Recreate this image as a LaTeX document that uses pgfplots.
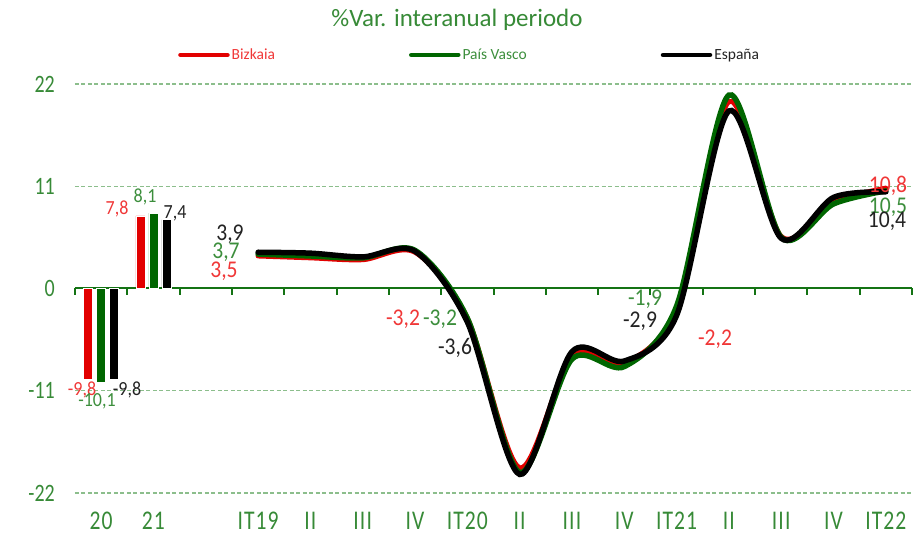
\documentclass[border=0pt]{standalone}
\usepackage{pgfplots}
\pgfplotsset{compat=1.18}
\usepackage{fontspec}
\setmainfont{Carlito}
\newfontfamily\ytickfont[FakeStretch=0.8]{Carlito}
\newfontfamily\xtickfont[FakeStretch=0.8,LetterSpace=4]{Carlito}
\newfontfamily\labfont[FakeStretch=0.9]{Carlito}
\definecolor{cred}{RGB}{226,0,0}
\definecolor{cgreen}{RGB}{0,102,0}
\definecolor{tgreen}{RGB}{55,138,55}
\definecolor{lred}{RGB}{240,55,55}
\definecolor{lgreen}{RGB}{60,142,60}
\definecolor{lblack}{RGB}{35,35,35}
\definecolor{gridgreen}{RGB}{140,190,140}
\definecolor{axgreen}{RGB}{20,115,20}
\begin{document}
\begin{tikzpicture}
\useasboundingbox (-75pt,-45pt) rectangle (839pt,493pt);
\node[text=tgreen, font=\fontsize{25}{30}\selectfont] at (382pt,473pt) {\%Var. interanual periodo};
\begin{axis}[at={(0pt,0pt)}, anchor=south west, scale only axis,
  width=837pt, height=409pt,
  xmin=-0.5, xmax=15.5, ymin=-22, ymax=22, clip=false,
  axis line style={draw=none}, major tick length=0pt,
  ytick={-22,-11,0,11,22}, yticklabels={-22,-11,0,11,22},
  xtick={0,...,15},
  xticklabels={20,21,,IT19,II,III,IV,IT20,II,III,IV,IT21,II,III,IV,IT22},
  ymajorgrids,
  grid style={gridgreen, line width=1.2pt, dash pattern=on 4pt off 2.5pt},
  tick label style={text=tgreen},
  yticklabel style={anchor=east, inner sep=0pt, xshift=-20pt, font=\ytickfont\fontsize{25}{28}\selectfont},
  xticklabel style={anchor=north, inner sep=0pt, yshift=-19pt, font=\xtickfont\fontsize{27}{30}\selectfont},
  legend columns=-1,
  legend style={draw=none, fill=none, at={(0.1231,1.0709)}, anchor=west, inner sep=0pt,
    font=\fontsize{15.5}{18}\selectfont,
    /tikz/every even column/.append style={column sep=132pt}},
  legend image code/.code={\draw[#1, line width=4.5pt, line cap=round] (0pt,0pt) -- (47pt,0pt);},
]
% zero axis line and boundary ticks
\draw[axgreen, line width=2pt] (axis cs:-0.5,0) -- (axis cs:15.5,0);
\pgfplotsinvokeforeach{-0.5,0.5,...,15.5}{\draw[axgreen, line width=2pt] (axis cs:#1,0) -- ++(0pt,-7pt);}
% bars (annual)
\addplot[ybar, bar width=0.172, bar shift=-0.2485, fill=cred, draw=white, line width=0.6pt, forget plot] coordinates {(0,-9.8) (1,7.8)};
\addplot[ybar, bar width=0.172, bar shift=0, fill=cgreen, draw=white, line width=0.6pt, forget plot] coordinates {(0,-10.1) (1,8.1)};
\addplot[ybar, bar width=0.172, bar shift=0.2485, fill=black, draw=white, line width=0.6pt, forget plot] coordinates {(0,-9.8) (1,7.4)};
% quarterly lines
\addplot[cred, line width=5pt, smooth, line cap=round] table {
x y
3 3.5
4 3.3
5 3.1
6 3.9
7 -3.2
8 -19.3
9 -7.2
10 -8.0
11 -2.2
12 20.1
13 5.6
14 9.3
15 10.8
};
\addlegendentry{\textcolor{lred}{Bizkaia}}
\addplot[cgreen, line width=5.5pt, smooth, line cap=round] table {
x y
3 3.7
4 3.5
5 3.3
6 4.1
7 -3.2
8 -19.8
9 -7.6
10 -8.4
11 -1.9
12 20.8
13 5.5
14 9.1
15 10.5
};
\addlegendentry{\textcolor{lgreen}{País Vasco}\hspace{10pt}}
\addplot[black, line width=5.5pt, smooth, line cap=round] table {
x y
3 3.9
4 3.8
5 3.4
6 4.0
7 -3.6
8 -20.0
9 -6.8
10 -7.8
11 -2.9
12 19.1
13 5.4
14 9.8
15 10.4
};
\addlegendentry{\textcolor{lblack}{España}}
% data labels
\begin{scope}[font=\labfont\fontsize{20}{22}\selectfont, inner sep=0pt]
\node[text=lred] at (axis cs:0.303,8.61) {7,8};
\node[text=lgreen] at (axis cs:0.838,9.90) {8,1};
\node[text=lblack] at (axis cs:1.412,8.07) {7,4};
\node[text=lred] at (axis cs:-0.366,-10.87) {-9,8};
\node[text=lgreen] at (axis cs:-0.079,-12.16) {-10,1};
\node[text=lblack] at (axis cs:0.494,-10.87) {-9,8};
\end{scope}
\begin{scope}[font=\labfont\fontsize{24}{26}\selectfont, inner sep=0pt]
\node[text=lblack] at (axis cs:2.463,5.81) {3,9};
\node[text=lgreen] at (axis cs:2.387,3.87) {3,7};
\node[text=lred] at (axis cs:2.348,1.83) {3,5};
\node[text=lred] at (axis cs:5.770,-3.34) {-3,2};
\node[text=lgreen] at (axis cs:6.478,-3.34) {-3,2};
\node[text=lblack] at (axis cs:6.764,-6.35) {-3,6};
\node[text=lgreen] at (axis cs:10.397,-1.18) {-1,9};
\node[text=lblack] at (axis cs:10.301,-3.55) {-2,9};
\node[text=lred] at (axis cs:11.735,-5.49) {-2,2};
\node[text=lred] at (axis cs:15.042,11.08) {10,8};
\node[text=lgreen] at (axis cs:15.042,8.71) {10,5};
\node[text=lblack] at (axis cs:15.023,7.21) {10,4};
\end{scope}
\end{axis}
\end{tikzpicture}
\end{document}
